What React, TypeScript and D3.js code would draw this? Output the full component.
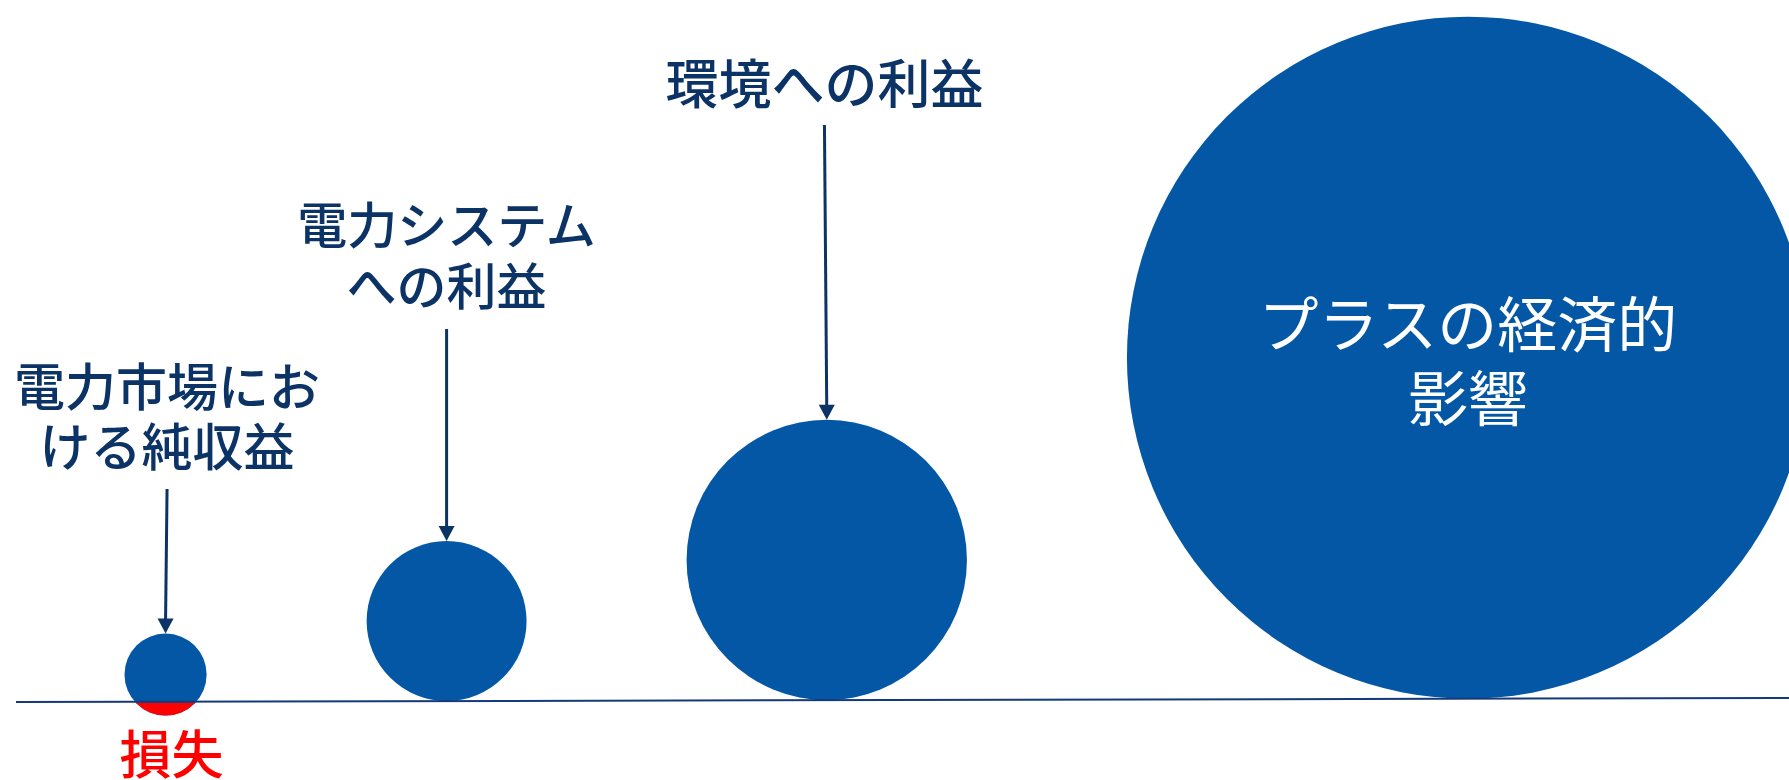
import React from "react";
import * as d3 from "d3";

// ---- data ----
const categories: string[][] = [
  ["電力市場にお", "ける純収益"],
  ["電力システム", "への利益"],
  ["環境への利益"],
  ["プラスの経済的", "影響"],
];
const values: number[] = [1.45, 5.5, 16.9, 100]; // relative magnitude (area)
const lossShare: number[] = [0.17, 0, 0, 0]; // share of diameter below the zero line
const lossLabel = "損失";

// ---- layout / style ----
const W = 1789;
const H = 780;
const FONT = "'Noto Sans CJK JP', 'Noto Sans', sans-serif";
const NAVY = "#0B3366";
const BLUE = "#0357A5";
const RED = "#FF0000";
const LINE_COLOR = "#16397A";
const GAP = 160;
const FIRST_LEFT = 124.5;
const LINE_X0 = 16;
const LINE_X1 = W;
const LINE_Y0 = 702;
const LINE_Y1 = 698;

// baseline = baseline of the last line of the label
const LABEL_STYLE = [
  { size: 51, baseline: 466, lh: 60, arrowTop: 489, dxTop: 1.5, inside: false },
  { size: 50, baseline: 305, lh: 61, arrowTop: 329, dxTop: 0, inside: false },
  { size: 53, baseline: 104, lh: 60, arrowTop: 125, dxTop: -2.3, inside: false },
  { size: 60, baseline: 347, lh: 74, arrowTop: 0, dxTop: 0, inside: true },
];

export default function App() {
  const rScale = d3.scaleSqrt().domain([0, d3.max(values) as number]).range([0, 341]);
  const lineY = d3.scaleLinear().domain([LINE_X0, LINE_X1]).range([LINE_Y0, LINE_Y1]);

  // circle positions: consecutive, separated by a constant gap
  let left = FIRST_LEFT;
  const circles = values.map((v, i) => {
    const r = rScale(v);
    const cx = left + r;
    left = cx + r + GAP;
    const bottom = lineY(cx) + lossShare[i] * 2 * r;
    const cy = bottom - r;
    return { r, cx, cy, i };
  });

  const arrowHead = (x: number, y: number) =>
    `M${x - 8},${y - 15} L${x + 8},${y - 15} L${x},${y} Z`;

  return (
    <svg
      width={W}
      height={H}
      style={{ position: "absolute", left: 0, top: 0, background: "#fff" }}
      fontFamily={FONT}
    >
      <defs>
        {circles.map((c) => (
          <clipPath id={`below-${c.i}`} key={c.i}>
            <rect x={c.cx - c.r - 2} y={lineY(c.cx) + 1} width={2 * c.r + 4} height={2 * c.r} />
          </clipPath>
        ))}
      </defs>

      {circles.map((c) => (
        <g key={c.i}>
          <circle cx={c.cx} cy={c.cy} r={c.r} fill={BLUE} />
          {lossShare[c.i] > 0 && (
            <circle
              cx={c.cx}
              cy={c.cy}
              r={c.r}
              fill={RED}
              clipPath={`url(#below-${c.i})`}
            />
          )}
        </g>
      ))}

      <line
        x1={LINE_X0}
        y1={LINE_Y0}
        x2={LINE_X1}
        y2={LINE_Y1}
        stroke={LINE_COLOR}
        strokeWidth={2}
      />

      {circles.map((c) => {
        const st = LABEL_STYLE[c.i];
        const lines = categories[c.i];
        const top = c.cy - c.r;
        const n = lines.length;
        if (st.inside) {
          return (
            <text
              key={`t${c.i}`}
              fill="#fff"
              fontSize={st.size}
              textAnchor="middle"
            >
              {lines.map((l, k) => (
                <tspan key={k} x={c.cx} y={st.baseline + k * st.lh}>
                  {l}
                </tspan>
              ))}
            </text>
          );
        }
        return (
          <g key={`t${c.i}`}>
            <text fill={NAVY} fontSize={st.size} fontWeight={500} textAnchor="middle">
              {lines.map((l, k) => (
                <tspan
                  key={k}
                  x={c.cx + st.dxTop}
                  y={st.baseline - (n - 1 - k) * st.lh}
                >
                  {l}
                </tspan>
              ))}
            </text>
            <line
              x1={c.cx + st.dxTop}
              y1={st.arrowTop}
              x2={c.cx}
              y2={top - 12}
              stroke={NAVY}
              strokeWidth={3}
            />
            <path d={arrowHead(c.cx, top)} fill={NAVY} />
          </g>
        );
      })}

      {circles
        .filter((c) => lossShare[c.i] > 0)
        .map((c) => (
          <text
            key={`l${c.i}`}
            x={c.cx + 6}
            y={774}
            fill={RED}
            fontSize={52}
            fontWeight={500}
            textAnchor="middle"
          >
            {lossLabel}
          </text>
        ))}
    </svg>
  );
}
